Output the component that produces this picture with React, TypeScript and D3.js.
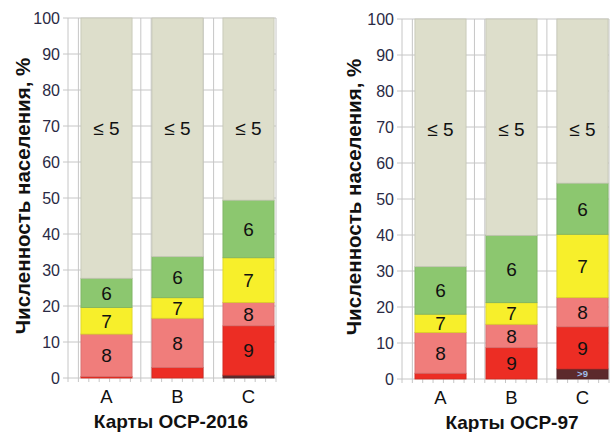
import { useEffect, useRef } from "react";
import * as d3 from "d3";

// categories and stacked classes (bottom to top)
const categories = ["A", "B", "C"];
const classKeys = ["gt9", "c9", "c8", "c7", "c6", "le5"];
const classLabels = [">9", "9", "8", "7", "6", "≤ 5"];
const classColors = ["#5c2a2c", "#ec2d24", "#f07d7b", "#f7ef2b", "#8cc76f", "#dddecb"];
const yTicks = [0, 10, 20, 30, 40, 50, 60, 70, 80, 90, 100];

// ОСР-2016, % of population per class (A, B, C)
const gt9_2016 = [0, 0, 0.8];
const c9_2016 = [0.4, 2.9, 13.7];
const c8_2016 = [11.8, 13.7, 6.5];
const c7_2016 = [7.4, 5.7, 12.4];
const c6_2016 = [8.1, 11.4, 16.0];
const le5_2016 = [72.3, 66.3, 50.6];

// ОСР-97
const gt9_97 = [0, 0, 2.8];
const c9_97 = [1.6, 8.7, 11.7];
const c8_97 = [11.3, 6.5, 8.1];
const c7_97 = [5.1, 6.0, 17.6];
const c6_97 = [13.2, 18.7, 14.2];
const le5_97 = [68.8, 60.1, 45.6];

const yTitle = "Численность населения, %";

function buildRows(cols) {
  return categories.map((cat, i) => {
    const row = { cat };
    classKeys.forEach((k, j) => {
      row[k] = cols[j][i];
    });
    return row;
  });
}

const rows2016 = buildRows([gt9_2016, c9_2016, c8_2016, c7_2016, c6_2016, le5_2016]);
const rows97 = buildRows([gt9_97, c9_97, c8_97, c7_97, c6_97, le5_97]);

const font = "'Liberation Sans', Arial, sans-serif";

function drawPanel(svg, rows, opts) {
  const { axisX, plotW, y0, y100, title, titleX, yTitleX } = opts;
  const g = svg.append("g");

  const y = d3.scaleLinear().domain([0, 100]).range([y0, y100]);
  const x = d3
    .scaleBand()
    .domain(categories)
    .range([axisX + 3, axisX + 216])
    .paddingInner(0.28)
    .paddingOuter(0.14);

  // vertical grid
  const vx = d3.scaleLinear().domain([0, 20]).range([axisX, axisX + plotW]);
  g.selectAll(".vgrid")
    .data(d3.range(0, 21))
    .enter()
    .append("line")
    .attr("x1", (d) => vx(d))
    .attr("x2", (d) => vx(d))
    .attr("y1", y(100))
    .attr("y2", y(0) + 4)
    .attr("stroke", "#c6c6c6")
    .attr("stroke-width", 1);

  // horizontal grid
  g.selectAll(".hgrid")
    .data(yTicks)
    .enter()
    .append("line")
    .attr("x1", axisX - 5)
    .attr("x2", axisX + plotW)
    .attr("y1", (d) => y(d))
    .attr("y2", (d) => y(d))
    .attr("stroke", "#c6c6c6")
    .attr("stroke-width", 1);

  g.selectAll(".ytick")
    .data(yTicks)
    .enter()
    .append("text")
    .attr("x", axisX - 8)
    .attr("y", (d) => y(d))
    .attr("dy", "0.36em")
    .attr("text-anchor", "end")
    .attr("font-family", font)
    .attr("font-size", 16)
    .attr("fill", "#2a2a44")
    .text((d) => d);

  const stacked = d3.stack().keys(classKeys)(rows);

  stacked.forEach((layer, li) => {
    const color = classColors[li];
    g.selectAll(".seg-" + li)
      .data(layer)
      .enter()
      .append("rect")
      .attr("x", (d) => x(d.data.cat))
      .attr("y", (d) => y(d[1]))
      .attr("width", x.bandwidth())
      .attr("height", (d) => Math.max(0, y(d[0]) - y(d[1])))
      .attr("fill", color)
      .attr("stroke", d3.color(color).darker(0.35).formatHex())
      .attr("stroke-width", 0.8);
  });

  stacked.forEach((layer, li) => {
    const key = classKeys[li];
    layer.forEach((d) => {
      const v = d[1] - d[0];
      const cx = x(d.data.cat) + x.bandwidth() / 2;
      if (key === "le5") {
        g.append("text")
          .attr("x", cx)
          .attr("y", y(69.5))
          .attr("dy", "0.36em")
          .attr("text-anchor", "middle")
          .attr("font-family", font)
          .attr("font-size", 19)
          .attr("fill", "#111")
          .text(classLabels[li]);
      } else if (key === "gt9") {
        if (v >= 2) {
          g.append("text")
            .attr("x", cx)
            .attr("y", y((d[0] + d[1]) / 2))
            .attr("dy", "0.36em")
            .attr("text-anchor", "middle")
            .attr("font-family", font)
            .attr("font-weight", "bold")
            .attr("font-size", 9.5)
            .attr("fill", "#9fbde8")
            .text(classLabels[li]);
        }
      } else if (v >= 4) {
        g.append("text")
          .attr("x", cx)
          .attr("y", y((d[0] + d[1]) / 2))
          .attr("dy", "0.36em")
          .attr("text-anchor", "middle")
          .attr("font-family", font)
          .attr("font-size", 19)
          .attr("fill", "#111")
          .text(classLabels[li]);
      }
    });
  });

  g.selectAll(".xlab")
    .data(categories)
    .enter()
    .append("text")
    .attr("x", (d) => x(d) + x.bandwidth() / 2)
    .attr("y", y0 + 25)
    .attr("text-anchor", "middle")
    .attr("font-family", font)
    .attr("font-size", 18.5)
    .attr("fill", "#111")
    .text((d) => d);

  g.append("text")
    .attr("x", titleX)
    .attr("y", y0 + 50)
    .attr("text-anchor", "middle")
    .attr("font-family", font)
    .attr("font-weight", "bold")
    .attr("font-size", 19)
    .attr("fill", "#111")
    .text(title);

  g.append("text")
    .attr("transform", `translate(${yTitleX},${(y0 + y100) / 2 - 2}) rotate(-90)`)
    .attr("text-anchor", "middle")
    .attr("font-family", font)
    .attr("font-weight", "bold")
    .attr("font-size", 20.5)
    .attr("fill", "#111")
    .text(yTitle);
}

export default function App() {
  const svgRef = useRef(null);

  useEffect(() => {
    const svg = d3.select(svgRef.current);
    svg.selectAll("*").remove();

    drawPanel(svg, rows2016, {
      axisX: 68,
      plotW: 208,
      y0: 378,
      y100: 18,
      title: "Карты ОСР-2016",
      titleX: 171,
      yTitleX: 30,
    });
    drawPanel(svg, rows97, {
      axisX: 402,
      plotW: 207,
      y0: 379,
      y100: 19,
      title: "Карты ОСР-97",
      titleX: 512,
      yTitleX: 361,
    });
  }, []);

  return (
    <svg
      ref={svgRef}
      width={615}
      height={432}
      style={{ position: "absolute", left: 0, top: 0, background: "#fff" }}
    ></svg>
  );
}
